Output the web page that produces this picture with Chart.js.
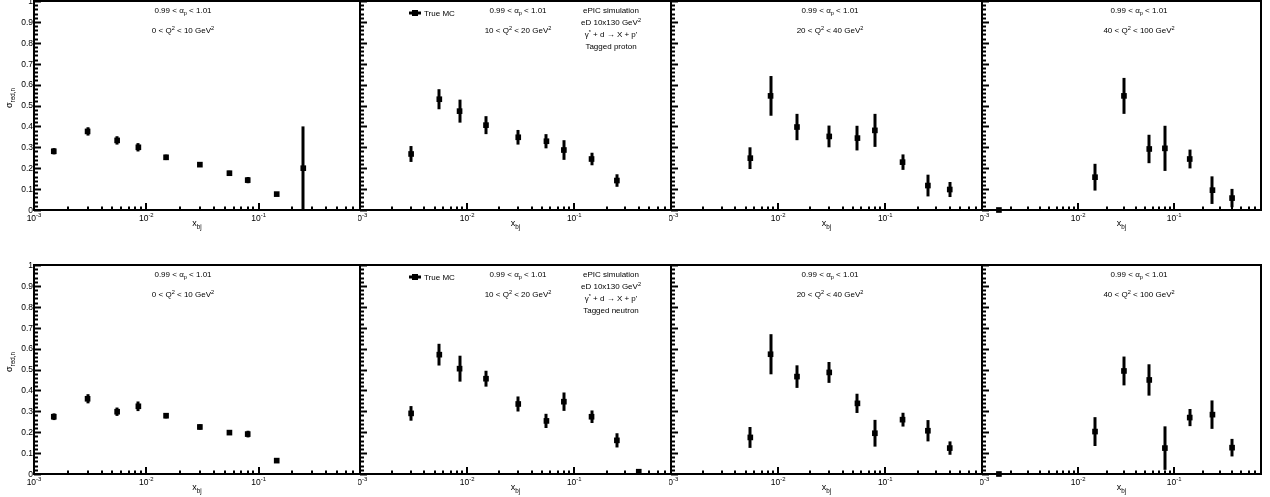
<!DOCTYPE html>
<html>
<head>
<meta charset="utf-8">
<script src="https://cdn.jsdelivr.net/npm/chart.js@4.4.1/dist/chart.umd.min.js"></script>
<style>
  body { margin: 0; background: #fff; }
  #wrap { position: relative; width: 1270px; height: 497px; overflow: hidden; background: #fff; }
  canvas { position: absolute; }
</style>
</head>
<body>
<div id="wrap"></div>
<script>
// x_bj bin centres (same for all panels)
const xBins = [0.0015, 0.003, 0.0055, 0.0085, 0.015, 0.03, 0.055, 0.08, 0.145, 0.25, 0.4];

// tagged proton (top row)
const protonQ1 = [0.281, 0.376, 0.333, 0.300, 0.252, 0.217, 0.176, 0.143, 0.076, 0.200, null];
const protonQ1Err = [0.015, 0.020, 0.020, 0.020, 0.013, 0.010, 0.012, 0.015, 0.008, 0.200, null];
const protonQ2 = [null, 0.268, 0.530, 0.473, 0.406, 0.348, 0.329, 0.287, 0.244, 0.141, null];
const protonQ2Err = [null, 0.038, 0.048, 0.055, 0.043, 0.035, 0.034, 0.047, 0.030, 0.030, null];
const protonQ3 = [null, null, 0.248, 0.546, 0.397, 0.352, 0.344, 0.381, 0.229, 0.117, 0.098];
const protonQ3Err = [null, null, 0.052, 0.095, 0.063, 0.052, 0.059, 0.079, 0.037, 0.052, 0.036];
const protonQ4 = [0.0, null, null, null, 0.157, 0.546, 0.292, 0.295, 0.244, 0.095, 0.057];
const protonQ4Err = [0, null, null, null, 0.064, 0.086, 0.068, 0.108, 0.045, 0.066, 0.044];

// tagged neutron (bottom row)
const neutronQ1 = [0.274, 0.360, 0.298, 0.324, 0.279, 0.225, 0.198, 0.191, 0.064, null, null];
const neutronQ1Err = [0.016, 0.022, 0.020, 0.023, 0.013, 0.013, 0.011, 0.016, 0.010, null, null];
const neutronQ2 = [null, 0.290, 0.571, 0.504, 0.456, 0.335, 0.254, 0.346, 0.274, 0.161, 0.011];
const neutronQ2Err = [null, 0.035, 0.052, 0.062, 0.038, 0.036, 0.034, 0.044, 0.030, 0.034, 0.008];
const neutronQ3 = [null, null, 0.175, 0.573, 0.466, 0.486, 0.338, 0.195, 0.260, 0.207, 0.124];
const neutronQ3Err = [null, null, 0.050, 0.096, 0.054, 0.050, 0.046, 0.064, 0.033, 0.051, 0.032];
const neutronQ4 = [0.0, null, null, null, 0.203, 0.493, 0.450, 0.124, 0.270, 0.284, 0.126];
const neutronQ4Err = [0, null, null, null, 0.069, 0.069, 0.075, 0.104, 0.041, 0.068, 0.042];

// axis ticks / labels
const xMajorTicks = [0.001, 0.01, 0.1];
const xTickExponents = ['-3', '-2', '-1'];
const yTickLabels = ['0', '0.1', '0.2', '0.3', '0.4', '0.5', '0.6', '0.7', '0.8', '0.9', '1'];
const q2Ranges = [['0', '10'], ['10', '20'], ['20', '40'], ['40', '100']];
const tagLabels = ['Tagged proton', 'Tagged neutron'];

const FONT = '"Liberation Sans", Arial, Helvetica, sans-serif';

// canvas geometry for the pads
const cols = [
  {left: 0, width: 362, padL: 34, padR: 2, textX: 183},
  {left: 358, width: 315, padL: 2, padR: 2, textX: 518},
  {left: 669, width: 315, padL: 2, padR: 2, textX: 830},
  {left: 980, width: 290, padL: 2, padR: 9, textX: 1139}
];
const rows = [
  {top: 0, height: 240, padT: 1, padB: 30},
  {top: 240, height: 257, padT: 25, padB: 23}
];

// draw text with sub/superscripts, centered or left aligned
function drawRich(ctx, parts, x, y, size, align) {
  const small = size * 0.7;
  let total = 0;
  parts.forEach(p => {
    ctx.font = (p.s ? small : size) + 'px ' + FONT;
    p.w = ctx.measureText(p.t).width;
    total += p.w;
  });
  let cx = align === 'left' ? x : x - total / 2;
  ctx.textAlign = 'left';
  ctx.textBaseline = 'alphabetic';
  parts.forEach(p => {
    ctx.font = (p.s ? small : size) + 'px ' + FONT;
    let dy = 0;
    if (p.s === 'sup') dy = -size * 0.42;
    if (p.s === 'sub') dy = size * 0.3;
    ctx.fillText(p.t, cx, y + dy);
    cx += p.w;
  });
}

const rootPlugin = {
  id: 'rootStyle',
  beforeDatasetsDraw(chart) {
    const {ctx, chartArea: a, scales: {x, y}} = chart;
    const info = chart.options.plugins.rootStyle;
    ctx.save();
    ctx.beginPath();
    ctx.rect(a.left, a.top, a.right - a.left, a.bottom - a.top);
    ctx.clip();
    ctx.strokeStyle = '#000';
    ctx.lineWidth = 3;
    info.ys.forEach((v, i) => {
      if (v === null || !info.es[i]) return;
      const px = Math.round(x.getPixelForValue(xBins[i]));
      ctx.beginPath();
      ctx.moveTo(px, y.getPixelForValue(v - info.es[i]));
      ctx.lineTo(px, y.getPixelForValue(v + info.es[i]));
      ctx.stroke();
    });
    ctx.restore();
  },
  afterDraw(chart) {
    const {ctx, chartArea: a, scales: {x, y}} = chart;
    const info = chart.options.plugins.rootStyle;
    ctx.save();
    ctx.strokeStyle = '#000';
    ctx.fillStyle = '#000';
    // frame
    ctx.lineWidth = 2;
    ctx.strokeRect(a.left, a.top, a.right - a.left, a.bottom - a.top);
    // y ticks (inward)
    for (let k = 0; k <= 50; k++) {
      const py = Math.round(y.getPixelForValue(k * 0.02)) + 0.5;
      const len = k % 5 === 0 ? 7 : 4;
      ctx.beginPath();
      ctx.moveTo(a.left, py);
      ctx.lineTo(a.left + len, py);
      ctx.stroke();
    }
    // x ticks (inward, log)
    xMajorTicks.forEach(d => {
      for (let m = 1; m <= 9; m++) {
        const v = d * m;
        if (v > x.max) break;
        const px = Math.round(x.getPixelForValue(v));
        const len = m === 1 ? 7 : 3.5;
        ctx.beginPath();
        ctx.moveTo(px, a.bottom);
        ctx.lineTo(px, a.bottom - len);
        ctx.stroke();
      }
    });
    // x labels
    xMajorTicks.forEach((v, i) => {
      const px = x.getPixelForValue(v);
      drawRich(ctx, [{t: '10'}, {t: xTickExponents[i], s: 'sup'}], px, a.bottom + 11, 8.5);
    });
    // x title
    drawRich(ctx, [{t: 'x'}, {t: 'bj', s: 'sub'}], (a.left + a.right) / 2, a.bottom + 16, 9);
    // y labels + title on first column
    if (info.col === 0) {
      ctx.font = '8.5px ' + FONT;
      ctx.textAlign = 'right';
      ctx.textBaseline = 'middle';
      yTickLabels.forEach(t => {
        ctx.fillText(t, a.left - 1, y.getPixelForValue(parseFloat(t)) + 0.5);
      });
      ctx.save();
      ctx.translate(a.left - 22, a.top + 97);
      ctx.rotate(-Math.PI / 2);
      drawRich(ctx, [{t: 'σ'}, {t: 'red,n', s: 'sub'}], 0, 0, 9);
      ctx.restore();
    }
    // annotations
    const tx = info.textX - info.canvasLeft;
    const q = q2Ranges[info.col];
    drawRich(ctx, [{t: '0.99 < α'}, {t: 'p', s: 'sub'}, {t: ' < 1.01'}], tx, a.top + 12, 8);
    drawRich(ctx, [{t: q[0] + ' < Q'}, {t: '2', s: 'sup'}, {t: ' < ' + q[1] + ' GeV'}, {t: '2', s: 'sup'}], tx, a.top + 32, 8);
    if (info.col === 1) {
      // legend
      ctx.lineWidth = 3;
      ctx.beginPath();
      ctx.moveTo(a.left + 49, a.top + 12);
      ctx.lineTo(a.left + 61, a.top + 12);
      ctx.stroke();
      ctx.fillRect(a.left + 52, a.top + 9, 6, 6);
      drawRich(ctx, [{t: 'True MC'}], a.left + 64, a.top + 15, 8, 'left');
      const cx = a.left + 251;
      drawRich(ctx, [{t: 'ePIC simulation'}], cx, a.top + 12, 8);
      drawRich(ctx, [{t: 'eD 10x130 GeV'}, {t: '2', s: 'sup'}], cx, a.top + 24, 8);
      drawRich(ctx, [{t: 'γ'}, {t: '*', s: 'sup'}, {t: ' + d → X + p\''}], cx, a.top + 36, 8);
      drawRich(ctx, [{t: tagLabels[info.row]}], cx, a.top + 48, 8);
    }
    ctx.restore();
  }
};

const series = [
  [[protonQ1, protonQ1Err], [protonQ2, protonQ2Err], [protonQ3, protonQ3Err], [protonQ4, protonQ4Err]],
  [[neutronQ1, neutronQ1Err], [neutronQ2, neutronQ2Err], [neutronQ3, neutronQ3Err], [neutronQ4, neutronQ4Err]]
];

const wrap = document.getElementById('wrap');
rows.forEach((r, ri) => {
  cols.forEach((c, ci) => {
    const cv = document.createElement('canvas');
    cv.width = c.width;
    cv.height = r.height;
    cv.style.left = c.left + 'px';
    cv.style.top = r.top + 'px';
    cv.style.width = c.width + 'px';
    cv.style.height = r.height + 'px';
    wrap.appendChild(cv);
    const [ys, es] = series[ri][ci];
    const pts = [];
    ys.forEach((v, i) => { if (v !== null) pts.push({x: xBins[i], y: v}); });
    new Chart(cv, {
      type: 'scatter',
      data: {
        datasets: [{
          label: 'True MC',
          data: pts,
          pointStyle: 'rect',
          pointRadius: 4,
          pointBorderWidth: 0,
          backgroundColor: '#000',
          borderColor: '#000',
          clip: false
        }]
      },
      options: {
        responsive: false,
        animation: false,
        devicePixelRatio: 1,
        layout: {autoPadding: false, padding: {left: c.padL, right: c.padR, top: r.padT, bottom: r.padB}},
        scales: {
          x: {type: 'logarithmic', min: 0.001, max: 0.8, display: false},
          y: {type: 'linear', min: 0, max: 1, display: false}
        },
        plugins: {
          legend: {display: false},
          tooltip: {enabled: false},
          rootStyle: {row: ri, col: ci, ys: ys, es: es, textX: c.textX, canvasLeft: c.left}
        }
      },
      plugins: [rootPlugin]
    });
  });
});
</script>
</body>
</html>
